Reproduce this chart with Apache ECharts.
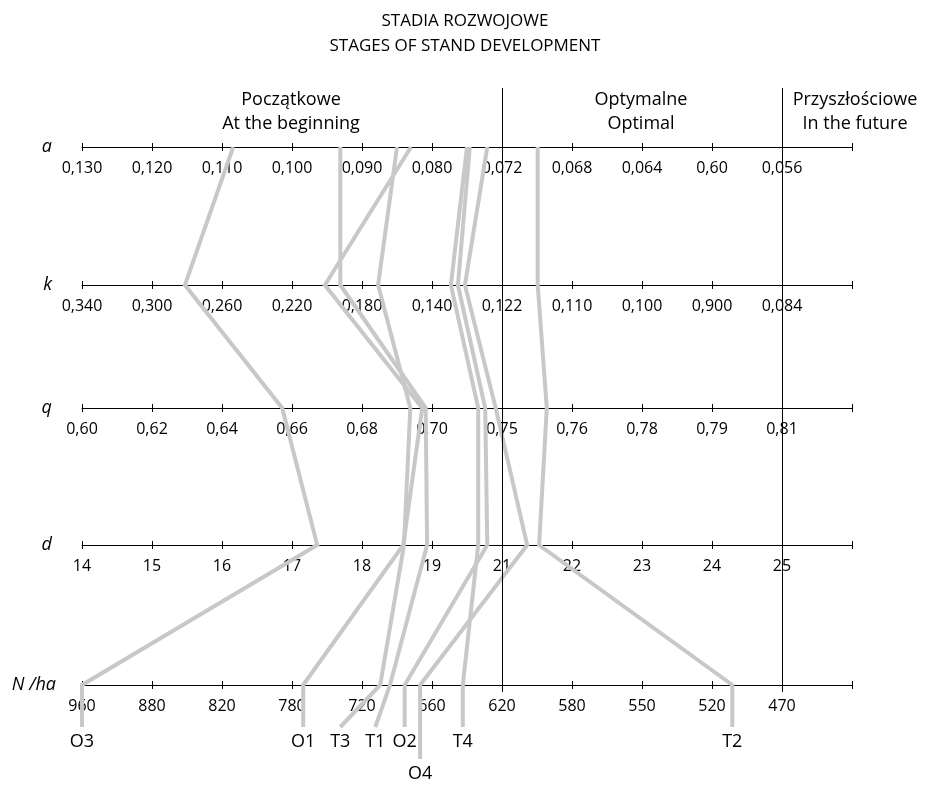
<!DOCTYPE html>
<html>
<head>
<meta charset="utf-8">
<script src="https://cdn.jsdelivr.net/npm/echarts@6/dist/echarts.min.js"></script>
<style>html,body{margin:0;padding:0;background:#fff}#c{width:930px;height:785px}</style>
</head>
<body>
<div id="c"></div>
<script>
// ---- data ----
const rowNames = ['a', 'k', 'q', 'd', 'N /ha'];
const ticksA = ['0,130','0,120','0,110','0,100','0,090','0,080','0,072','0,068','0,064','0,60','0,056'];
const ticksK = ['0,340','0,300','0,260','0,220','0,180','0,140','0,122','0,110','0,100','0,900','0,084'];
const ticksQ = ['0,60','0,62','0,64','0,66','0,68','0,70','0,75','0,76','0,78','0,79','0,81'];
const ticksD = ['14','15','16','17','18','19','21','22','23','24','25'];
const ticksN = ['960','880','820','780','720','660','620','580','550','520','470'];
const stageNames = ['Początkowe\nAt the beginning', 'Optymalne\nOptimal', 'Przyszłościowe\nIn the future'];
const stageBounds = [6, 10]; // tick positions of the stage boundaries

// positions of each stand on the axes a, k, q, d, N/ha (in tick units)
const stands = ['O3','O1','T3','T1','O2','O4','T4','T2'];
const O3 = [2.16, 1.47, 2.86, 3.36, 0.00];
const O1 = [4.70, 3.47, 4.86, 4.59, 3.16];
const T3 = [4.50, 4.23, 4.69, 4.60, 4.26];
const T1 = [3.69, 3.69, 4.91, 4.93, 4.40];
const O2 = [5.54, 5.37, 5.76, 5.79, 4.61];
const O4 = [5.79, 5.47, 5.91, 6.36, 4.83];
const T4 = [5.50, 5.27, 5.66, 5.66, 5.44];
const T2 = [6.51, 6.51, 6.64, 6.53, 9.29];
const labelPos = [0.00, 3.16, 3.69, 4.19, 4.61, 4.83, 5.44, 9.29];

// ---- layout ----
const ROW_Y = [147, 285, 408, 545, 685];
const STUB_Y = [727, 727, 727, 727, 727, 759, 727, 727];
const V_TOP = 88, V_BOTTOM = 692;
const FONT = 'Open Sans';
const LINE_COLOR = '#c8c8c8';

const tickSets = [ticksA, ticksK, ticksQ, ticksD, ticksN];
const standVals = [O3, O1, T3, T1, O2, O4, T4, T2];
const nameGaps = [30, 30, 30, 30, 26];

const grids = [], xAxes = [], yAxes = [];
ROW_Y.forEach((y, i) => {
  grids.push({left: 82, right: 78, top: y - 4, height: 4});
  const labels = tickSets[i];
  xAxes.push({
    gridIndex: i, type: 'value', min: 0, max: 11, interval: 1, position: 'bottom',
    name: rowNames[i], nameLocation: 'start', nameGap: nameGaps[i],
    nameTextStyle: {fontStyle: 'italic', fontSize: 18, fontFamily: FONT, color: '#000', verticalAlign: 'middle'},
    axisLine: {show: true, lineStyle: {color: '#000', width: 1}},
    axisTick: {show: true, length: 4, inside: false, lineStyle: {color: '#000', width: 1}},
    splitLine: {show: true, lineStyle: {color: '#000', width: 1}},
    axisLabel: {show: true, margin: 13, fontSize: 16, fontFamily: FONT, color: '#000',
      formatter: v => (labels[v] !== undefined ? labels[v] : '')}
  });
  yAxes.push({gridIndex: i, type: 'value', min: 0, max: 1, show: false});
});
// overlay grid for the stand lines
grids.push({left: 82, right: 78, top: 0, bottom: 0});
xAxes.push({gridIndex: 5, type: 'value', min: 0, max: 11, show: false});
yAxes.push({gridIndex: 5, type: 'value', min: 0, max: 785, inverse: true, show: false});

const series = [];
stands.forEach((s, j) => {
  const vals = standVals[j];
  const data = vals.map((v, r) => [v, ROW_Y[r]]);
  data.push([labelPos[j], STUB_Y[j]]);
  series.push({
    type: 'line', name: s, xAxisIndex: 5, yAxisIndex: 5, data: data,
    symbol: 'none', silent: true, z: 3,
    lineStyle: {color: LINE_COLOR, width: 4, join: 'miter', cap: 'butt'}
  });
});
series.push({
  type: 'scatter', xAxisIndex: 5, yAxisIndex: 5, symbol: 'circle', symbolSize: 1, silent: true, z: 2,
  itemStyle: {color: '#ffffff', opacity: 1},
  data: stands.map((s, j) => ({value: [labelPos[j], STUB_Y[j]], name: s})),
  label: {show: true, position: 'bottom', distance: 5, formatter: p => p.name,
    fontSize: 18, fontFamily: FONT, color: '#000000', opacity: 1, textBorderWidth: 0},
  labelLayout: {hideOverlap: false}
});
series.push({
  type: 'line', xAxisIndex: 5, yAxisIndex: 5, data: [], z: 5, silent: true,
  markLine: {
    silent: true, symbol: ['none', 'none'], label: {show: false},
    lineStyle: {color: '#000', width: 1, type: 'solid'},
    data: stageBounds.map(b => [{coord: [b, V_TOP]}, {coord: [b, V_BOTTOM]}])
  }
});

const stageCenters = [291, 641, 855];
const graphics = stageNames.map((t, i) => ({
  type: 'text', x: stageCenters[i], y: 88,
  style: {text: t, fontSize: 18, fontFamily: FONT, fill: '#000', align: 'center', verticalAlign: 'top', lineHeight: 24}
}));

const chart = echarts.init(document.getElementById('c'), null, {renderer: 'canvas'});
chart.setOption({
  animation: false,
  backgroundColor: '#fff',
  title: {
    text: 'STADIA ROZWOJOWE\nSTAGES OF STAND DEVELOPMENT', left: 'center', top: 4,
    textStyle: {fontSize: 17, fontWeight: 'normal', fontFamily: FONT, color: '#000', lineHeight: 25}
  },
  grid: grids, xAxis: xAxes, yAxis: yAxes, series: series, graphic: graphics
});
</script>
</body>
</html>
